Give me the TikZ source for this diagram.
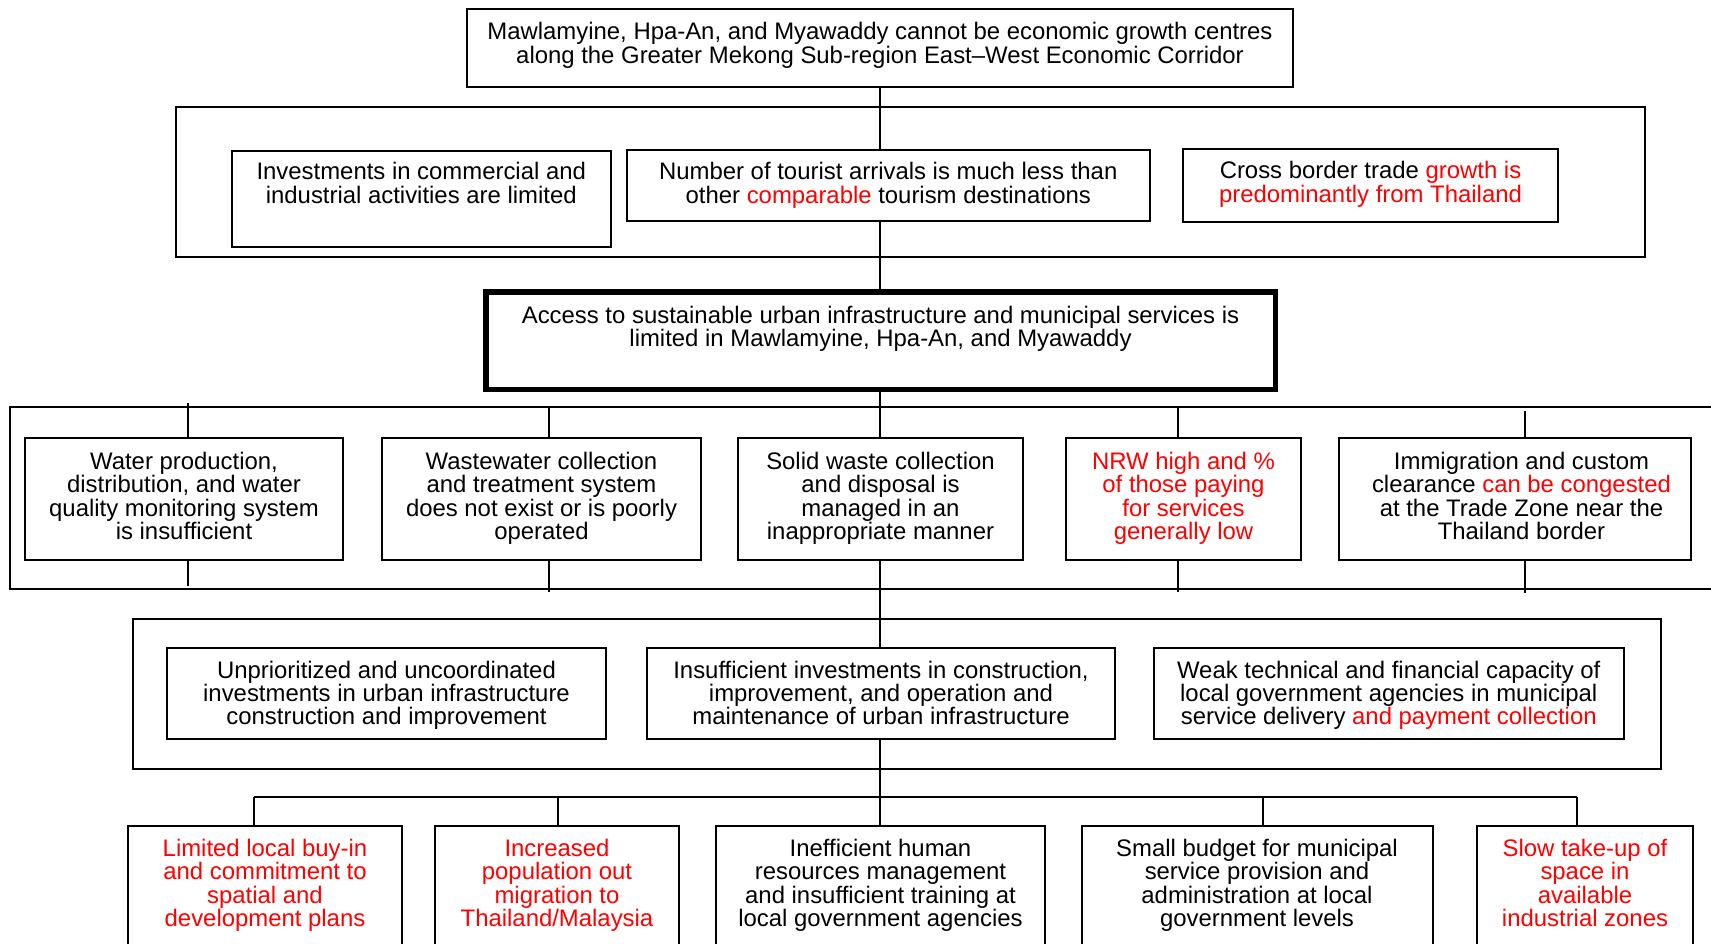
\documentclass[tikz,border=0pt]{standalone}
\usepackage{fontspec}
\setmainfont{Liberation Sans}
\definecolor{rd}{RGB}{255,0,0}
\newcommand{\rt}[1]{\textcolor{rd}{#1}}
% #1 width, #2 height, #3 baselineskip, #4 first baseline offset, #5 text
\newcommand{\bt}[5]{\parbox[c][#2pt][t]{#1pt}{\fontsize{23.9pt}{#3pt}\selectfont\centering\rule{0pt}{#4pt}#5}}
\tikzset{
  bx/.style={draw, line width=2pt, inner sep=0pt, outer sep=0pt, anchor=north west},
  thickbx/.style={bx, line width=5.5pt},
  grp/.style={draw, line width=2pt, inner sep=0pt, outer sep=0pt, anchor=north west},
  ln/.style={line width=2pt},
}
\begin{document}
\begin{tikzpicture}[x=1pt,y=-1pt]
\useasboundingbox (0,0) rectangle (1711,944);
% group frames
\node[grp, minimum width=1469.5pt, minimum height=150pt] (g1) at (175.5,107) {};
\node[grp, minimum width=1730pt, minimum height=182pt] (g3) at (10,407) {};
\node[grp, minimum width=1528pt, minimum height=150pt] (g4) at (133,619) {};
% top
\node[bx] (top) at (467,9) {\bt{826}{78}{21}{31}{Mawlamyine, Hpa-An, and Myawaddy cannot be economic growth centres\\ along the Greater Mekong Sub-region East--West Economic Corridor}};
% row 1
\node[bx] (inv) at (232,151) {\bt{378.5}{96}{24}{29}{Investments in commercial and\\ industrial activities are limited}};
\node[bx] (tour) at (627,150) {\bt{522.5}{71}{24}{30}{Number of tourist arrivals is much less than\\ other \rt{comparable} tourism destinations}};
\node[bx] (cross) at (1183,149) {\bt{375}{73}{23.5}{30}{Cross border trade \rt{growth is}\\ \rt{predominantly from Thailand}}};
% main problem
\node[thickbx] (main) at (485.75,291.75) {\bt{789.5}{97.5}{21.5}{31.25}{Access to sustainable urban infrastructure and municipal services is\\ limited in Mawlamyine, Hpa-An, and Myawaddy}};
% row 3
\node[bx] (water) at (25,438) {\bt{318}{122}{23.5}{31}{Water production,\\ distribution, and water\\ quality monitoring system\\ is insufficient}};
\node[bx] (waste) at (382,438) {\bt{319}{122}{23.5}{31}{Wastewater collection\\ and treatment system\\ does not exist or is poorly\\ operated}};
\node[bx] (solid) at (738,438) {\bt{285}{122}{23.5}{31}{Solid waste collection\\ and disposal is\\ managed in an\\ inappropriate manner}};
\node[bx] (nrw) at (1066,438) {\bt{235}{122}{23.5}{31}{\color{rd}NRW high and \%\\ of those paying\\ for services\\ generally low}};
\node[bx] (imm) at (1339,438) {\bt{352}{122}{23.5}{31}{\leftskip=13pt plus 1fil Immigration and custom\\ clearance \rt{can be congested}\\ at the Trade Zone near the\\ Thailand border}};
% row 4
\node[bx] (unp) at (167,648) {\bt{439}{91}{23}{30}{Unprioritized and uncoordinated\\ investments in urban infrastructure\\ construction and improvement}};
\node[bx] (ins) at (647,648) {\bt{468}{91}{23}{30}{Insufficient investments in construction,\\ improvement, and operation and\\ maintenance of urban infrastructure}};
\node[bx] (weak) at (1154,648) {\bt{469.5}{91}{23}{30}{Weak technical and financial capacity of\\ local government agencies in municipal\\ service delivery \rt{and payment collection}}};
% row 5
\node[bx] (lim) at (128,826) {\bt{274}{140}{23.5}{30}{\color{rd}Limited local buy-in\\ and commitment to\\ spatial and\\ development plans}};
\node[bx] (inc) at (435,826) {\bt{244}{140}{23.5}{30}{\color{rd}Increased\\ population out\\ migration to\\ Thailand/Malaysia}};
\node[bx] (ineff) at (716,826) {\bt{329}{140}{23.5}{30}{Inefficient human\\ resources management\\ and insufficient training at\\ local government agencies}};
\node[bx] (small) at (1081.5,826) {\bt{351}{140}{23.5}{30}{Small budget for municipal\\ service provision and\\ administration at local\\ government levels}};
\node[bx] (slow) at (1477,826) {\bt{216}{140}{23.5}{30}{\color{rd}Slow take-up of\\ space in\\ available\\ industrial zones}};
% central spine
\draw[ln] (top.south) -- (top.south |- tour.north);
\draw[ln] (top.south |- tour.south) -- (top.south |- main.north);
\draw[ln] (top.south |- main.south) -- (top.south |- solid.north);
\draw[ln] (top.south |- solid.south) -- (top.south |- ins.north);
\draw[ln] (top.south |- ins.south) -- (top.south |- ineff.north);
% row 3 ticks
\coordinate (t1a) at (188,403); \coordinate (t1b) at (188,586);
\coordinate (t2a) at (549,407); \coordinate (t2b) at (549,592);
\coordinate (t4a) at (1178,407); \coordinate (t4b) at (1178,592);
\coordinate (t5a) at (1525,411); \coordinate (t5b) at (1525,593);
\draw[ln] (t1a) -- (t1a |- water.north); \draw[ln] (t1b |- water.south) -- (t1b);
\draw[ln] (t2a) -- (t2a |- waste.north); \draw[ln] (t2b |- waste.south) -- (t2b);
\draw[ln] (t4a) -- (t4a |- nrw.north); \draw[ln] (t4b |- nrw.south) -- (t4b);
\draw[ln] (t5a) -- (t5a |- imm.north); \draw[ln] (t5b |- imm.south) -- (t5b);
% bottom bus
\coordinate (d1) at (254,797); \coordinate (d2) at (558,797);
\coordinate (d4) at (1263,797); \coordinate (d5) at (1577,797);
\draw[ln] (d1) -- (d5);
\draw[ln] (d1) -- (d1 |- lim.north);
\draw[ln] (d2) -- (d2 |- inc.north);
\draw[ln] (d4) -- (d4 |- small.north);
\draw[ln] (d5) -- (d5 |- slow.north);
\end{tikzpicture}
\end{document}
